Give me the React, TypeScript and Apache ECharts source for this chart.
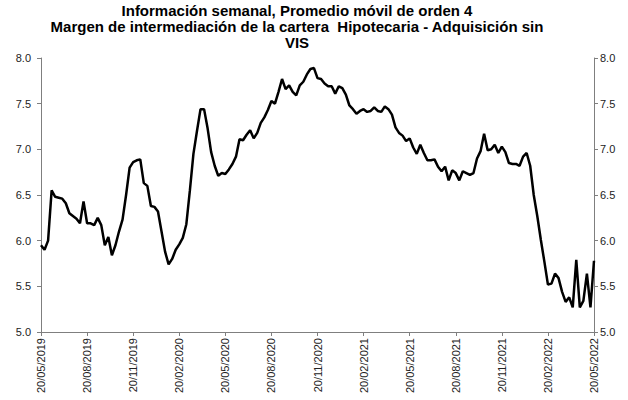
import React, { useEffect, useRef } from "react";
import * as echarts from "echarts";

const titleLines = [
  "Información semanal, Promedio móvil de orden 4",
  "Margen de intermediación de la cartera  Hipotecaria - Adquisición sin",
  "VIS",
];

const xTickLabels = [
  "20/05/2019", "20/08/2019", "20/11/2019", "20/02/2020", "20/05/2020",
  "20/08/2020", "20/11/2020", "20/02/2021", "20/05/2021", "20/08/2021",
  "20/11/2021", "20/02/2022", "20/05/2022",
];

const values2019 = [
  5.95, 5.90, 6.00, 6.55, 6.48, 6.47, 6.46, 6.41, 6.30, 6.27, 6.24, 6.19, 6.43,
  6.19, 6.19, 6.17, 6.25, 6.17, 5.95, 6.04, 5.84, 5.95, 6.10, 6.23, 6.50, 6.80,
  6.86, 6.88, 6.89, 6.63, 6.60, 6.38, 6.37, 6.32, 6.10, 5.88, 5.74, 5.80, 5.90,
];
const values2020 = [
  5.96, 6.03, 6.18, 6.55, 6.95, 7.20, 7.44, 7.44, 7.23, 6.97, 6.82, 6.71, 6.74,
  6.73, 6.78, 6.84, 6.92, 7.11, 7.10, 7.16, 7.21, 7.12, 7.18, 7.29, 7.35, 7.43,
  7.53, 7.50, 7.63, 7.77, 7.66, 7.70, 7.63, 7.59, 7.70, 7.74, 7.82, 7.88, 7.89,
  7.78, 7.77, 7.72, 7.69, 7.69, 7.61, 7.69, 7.67, 7.60, 7.48, 7.44, 7.39, 7.42,
];
const values2021 = [
  7.44, 7.41, 7.42, 7.46, 7.42, 7.41, 7.47, 7.44, 7.38, 7.24, 7.18, 7.15, 7.09,
  7.12, 7.02, 6.95, 7.05, 6.96, 6.88, 6.88, 6.89, 6.81, 6.76, 6.81, 6.66, 6.77,
  6.74, 6.66, 6.76, 6.74, 6.72, 6.74, 6.90, 6.98, 7.17, 6.99, 7.00, 7.05, 6.96,
  7.03, 6.97, 6.85, 6.84, 6.84, 6.82, 6.92, 6.96, 6.82, 6.50, 6.27, 6.01, 5.77,
];
const values2022 = [
  5.52, 5.53, 5.64, 5.59, 5.44, 5.33, 5.38, 5.27, 5.79, 5.27, 5.34, 5.64, 5.27,
  5.78,
];

const weeklyValues = [...values2019, ...values2020, ...values2021, ...values2022];

const FONT = "'Liberation Sans', Arial, sans-serif";

export default function App() {
  const ref = useRef<HTMLDivElement>(null);

  useEffect(() => {
    if (!ref.current) return;
    const chart = echarts.init(ref.current, undefined, { renderer: "svg" });
    const lastIndex = weeklyValues.length - 1;
    const step = lastIndex / (xTickLabels.length - 1);

    const yAxisBase = {
      type: "value",
      min: 5,
      max: 8,
      interval: 0.5,
      splitLine: { show: false },
      axisLine: { show: true, lineStyle: { color: "#7f7f7f", width: 1 } },
      axisTick: { show: true, inside: false, length: 4, lineStyle: { color: "#7f7f7f" } },
      axisLabel: {
        color: "#222",
        fontSize: 11,
        fontFamily: FONT,
        formatter: (v: number) => v.toFixed(1),
      },
    };

    chart.setOption({
      animation: false,
      backgroundColor: "#fff",
      graphic: titleLines.map((t, i) => ({
        type: "text",
        x: 297,
        y: 3 + i * 16,
        style: {
          text: t,
          fill: "#000",
          font: `bold 15px ${FONT}`,
          textAlign: "center",
          textVerticalAlign: "top",
        },
      })),
      grid: { left: 41, right: 34, top: 58, bottom: 68, containLabel: false },
      xAxis: {
        type: "value",
        min: 0,
        max: lastIndex,
        interval: step,
        splitLine: { show: false },
        axisLine: { show: true, lineStyle: { color: "#7f7f7f", width: 1 } },
        axisTick: { show: true, length: 4, lineStyle: { color: "#7f7f7f" } },
        axisLabel: {
          rotate: 90,
          color: "#222",
          fontSize: 11,
          fontFamily: FONT,
          margin: 6,
          showMinLabel: true,
          showMaxLabel: true,
          formatter: (v: number) => xTickLabels[Math.round(v / step)] ?? "",
        },
      },
      yAxis: [
        { ...yAxisBase, position: "left", axisLabel: { ...yAxisBase.axisLabel, margin: 10 } },
        { ...yAxisBase, position: "right", axisLabel: { ...yAxisBase.axisLabel, margin: 6 } },
      ],
      series: [
        {
          type: "line",
          yAxisIndex: 0,
          data: weeklyValues.map((v, i) => [i, v]),
          showSymbol: false,
          symbol: "none",
          lineStyle: { color: "#000", width: 2.5 },
          z: 3,
        },
      ],
    });

    return () => chart.dispose();
  }, []);

  return (
    <div
      ref={ref}
      style={{ position: "fixed", left: 0, top: 0, width: 628, height: 400 }}
    />
  );
}
